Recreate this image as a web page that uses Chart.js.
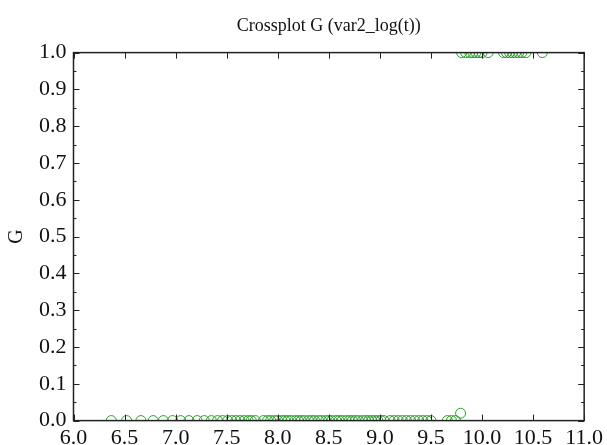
<!DOCTYPE html>
<html>
<head>
<meta charset="utf-8">
<script src="https://cdn.jsdelivr.net/npm/chart.js@4.4.1/dist/chart.umd.min.js"></script>
<style>
  html, body { margin: 0; padding: 0; background: #fff; }
  #wrap { width: 607px; height: 445px; }
</style>
</head>
<body>
<div id="wrap"><canvas id="grafico"></canvas></div>
<script>
// dados
const xBaixo = [
  6.37, 6.52, 6.66, 6.78, 6.88, 6.97, 7.05, 7.13, 7.21, 7.28, 7.35, 7.41, 7.46, 7.51,
  7.55, 7.59, 7.63, 7.67, 7.71, 7.74, 7.78,
  7.86, 7.90, 7.93, 7.97, 8.00, 8.04, 8.07, 8.10, 8.13, 8.17, 8.20, 8.23, 8.26, 8.30,
  8.33, 8.36, 8.40, 8.43, 8.47, 8.50, 8.53,
  8.57, 8.60, 8.63, 8.67, 8.70, 8.73, 8.76, 8.79, 8.83, 8.86, 8.89, 8.92, 8.95, 8.98,
  9.01, 9.04,
  9.10, 9.14, 9.18, 9.22, 9.26, 9.30, 9.34, 9.38, 9.42, 9.46, 9.50,
  9.66, 9.70, 9.74
];
const yBaixo = xBaixo.map(() => 0);

const xMeio = [9.79];
const yMeio = [0.02];

const xTopo = [
  9.80, 9.84, 9.88, 9.91, 9.94, 9.97, 10.00, 10.06,
  10.21, 10.24, 10.27, 10.30, 10.33, 10.36, 10.39, 10.43,
  10.59
];
const yTopo = xTopo.map(() => 1);

const xTicks = [6.0, 6.5, 7.0, 7.5, 8.0, 8.5, 9.0, 9.5, 10.0, 10.5, 11.0];
const yTicks = [0.0, 0.1, 0.2, 0.3, 0.4, 0.5, 0.6, 0.7, 0.8, 0.9, 1.0];
const yMinor = [0.05, 0.15, 0.25, 0.35, 0.45, 0.55, 0.65, 0.75, 0.85, 0.95];

const titulo = 'Crossplot G (var2_log(t))';
const rotuloY = 'G';

const pontos = [];
xBaixo.forEach((x, i) => pontos.push({ x, y: yBaixo[i] }));
xMeio.forEach((x, i) => pontos.push({ x, y: yMeio[i] }));
xTopo.forEach((x, i) => pontos.push({ x, y: yTopo[i] }));

const fonte = '"Liberation Serif", "DejaVu Serif", serif';
const corEixo = '#222';

// recorta os marcadores na area do grafico
const recortePlugin = {
  id: 'recorte',
  beforeDatasetsDraw(chart) {
    const { ctx, chartArea: a } = chart;
    ctx.save();
    ctx.beginPath();
    ctx.rect(a.left, a.top, a.right - a.left, a.bottom - a.top);
    ctx.clip();
  },
  afterDatasetsDraw(chart) {
    chart.ctx.restore();
  }
};

// moldura e ticks para dentro (estilo matplotlib)
const molduraPlugin = {
  id: 'moldura',
  afterDraw(chart) {
    const { ctx, chartArea: a, scales: { x, y } } = chart;
    ctx.save();
    ctx.strokeStyle = corEixo;
    ctx.lineWidth = 1;
    ctx.beginPath();
    xTicks.forEach(v => {
      const px = Math.round(x.getPixelForValue(v)) + 0.5;
      ctx.moveTo(px, a.bottom); ctx.lineTo(px, a.bottom - 6);
      ctx.moveTo(px, a.top); ctx.lineTo(px, a.top + 6);
    });
    yTicks.forEach(v => {
      const py = Math.round(y.getPixelForValue(v)) + 0.5;
      ctx.moveTo(a.left, py); ctx.lineTo(a.left + 6, py);
      ctx.moveTo(a.right, py); ctx.lineTo(a.right - 6, py);
    });
    yMinor.forEach(v => {
      const py = Math.round(y.getPixelForValue(v)) + 0.5;
      ctx.moveTo(a.left, py); ctx.lineTo(a.left + 3, py);
      ctx.moveTo(a.right, py); ctx.lineTo(a.right - 3, py);
    });
    ctx.stroke();
    ctx.lineWidth = 1.5;
    ctx.strokeRect(a.left, a.top, a.right - a.left, a.bottom - a.top);
    ctx.restore();
  }
};

new Chart(document.getElementById('grafico'), {
  type: 'scatter',
  data: {
    datasets: [{
      data: pontos,
      pointStyle: 'circle',
      pointRadius: 5,
      pointHoverRadius: 5,
      borderWidth: 1,
      borderColor: 'rgb(40,160,40)',
      backgroundColor: 'rgba(0,0,0,0)'
    }]
  },
  options: {
    responsive: true,
    maintainAspectRatio: false,
    animation: false,
    layout: { padding: { left: 5, right: 22, top: 0, bottom: -10 } },
    plugins: {
      legend: { display: false },
      tooltip: { enabled: false },
      title: {
        display: true,
        text: titulo,
        fullSize: false,
        color: '#111',
        font: { family: fonte, size: 18, weight: 'normal' },
        padding: { top: 15, bottom: 16 }
      }
    },
    scales: {
      x: {
        type: 'linear',
        min: 6,
        max: 11,
        afterBuildTicks: s => { s.ticks = xTicks.map(v => ({ value: v })); },
        grid: { display: false, drawTicks: false },
        border: { display: false },
        ticks: {
          color: '#111',
          padding: 4,
          maxRotation: 0,
          font: { family: fonte, size: 22 },
          callback: v => Number(v).toFixed(1)
        }
      },
      y: {
        type: 'linear',
        min: 0,
        max: 1,
        afterBuildTicks: s => { s.ticks = yTicks.map(v => ({ value: v })); },
        grid: { display: false, drawTicks: false },
        border: { display: false },
        title: {
          display: true,
          text: rotuloY,
          color: '#111',
          font: { family: fonte, size: 20 },
          padding: { top: 0, bottom: 3 }
        },
        ticks: {
          color: '#111',
          padding: 7,
          font: { family: fonte, size: 22, lineHeight: 1 },
          callback: v => Number(v).toFixed(1)
        }
      }
    }
  },
  plugins: [recortePlugin, molduraPlugin]
});
</script>
</body>
</html>
